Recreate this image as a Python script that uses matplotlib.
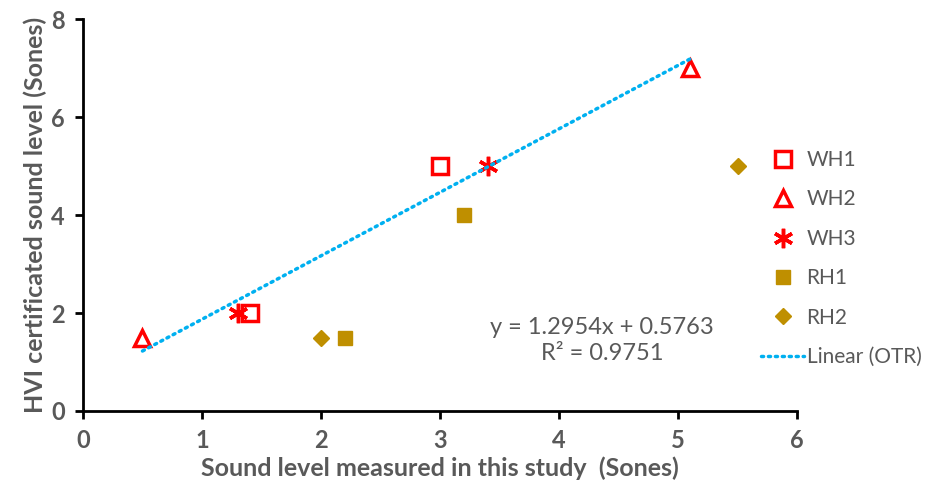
import matplotlib

matplotlib.use("Agg")
import matplotlib.pyplot as plt
import numpy as np

plt.rcParams["font.family"] = ["Lato", "DejaVu Sans"]

GRAY = "#595959"
RED = "#FF0000"
GOLD = "#BF8F00"
BLUE = "#00B0F0"

# measured (x) vs certificated (y), Sones
wh1_x = [3.0, 1.4]
wh1_y = [5.0, 2.0]
wh2_x = [0.5, 5.1]
wh2_y = [1.5, 7.0]
wh3_x = [1.3, 3.4]
wh3_y = [2.0, 5.0]
rh1_x = [3.2, 2.2]
rh1_y = [4.0, 1.5]
rh2_x = [2.0, 5.5]
rh2_y = [1.5, 5.0]

# trendline for OTR
slope = 1.2954
intercept = 0.5763
r2 = 0.9751
fit_range = [0.5, 5.1]

fig = plt.figure(figsize=(9.26, 4.95), dpi=100)
ax = fig.add_axes([0.0896, 0.1697, 0.7711, 0.7919])

ax.plot(wh1_x, wh1_y, ls="none", marker="s", ms=12, mfc="white", mec=RED, mew=2.5, label="WH1")
ax.plot(wh2_x, wh2_y, ls="none", marker="^", ms=12, mfc="white", mec=RED, mew=2.5, label="WH2")
ax.plot(wh3_x, wh3_y, ls="none", marker=(6, 2, 0), ms=14, mec=RED, mew=2.5, label="WH3")
ax.plot(rh1_x, rh1_y, ls="none", marker="s", ms=10.5, mfc=GOLD, mec=GOLD, label="RH1")
ax.plot(rh2_x, rh2_y, ls="none", marker="D", ms=8, mfc=GOLD, mec=GOLD, label="RH2")

xf = np.array(fit_range)
ax.plot(xf, slope * xf + intercept, ls=(0, (0.6, 1.4)), lw=2.5, color=BLUE,
        dash_capstyle="round", label="Linear (OTR)")

ax.text(4.36, 1.43, f"y = {slope}x + {intercept}\nR² = {r2}", ha="center", va="center",
        fontsize=17, color=GRAY, linespacing=1.3)

ax.set_xlim(0, 6)
ax.set_ylim(0, 8)
ax.set_xticks(range(0, 7))
ax.set_yticks(range(0, 9, 2))
for s in ["top", "right"]:
    ax.spines[s].set_visible(False)
for s in ["left", "bottom"]:
    ax.spines[s].set_linewidth(2)
ax.tick_params(direction="out", length=6, width=2, colors="black", labelcolor=GRAY,
               labelsize=17, pad=7)
for lab in ax.get_xticklabels() + ax.get_yticklabels():
    lab.set_fontweight("bold")

ax.set_xlabel("Sound level measured in this study  (Sones)", fontsize=18,
              fontweight="bold", color=GRAY, labelpad=3)
ax.set_ylabel("HVI certificated sound level (Sones)", fontsize=18,
              fontweight="bold", color=GRAY, labelpad=3)

leg = fig.legend(loc="upper left", bbox_to_anchor=(0.808, 0.722), frameon=False,
                 fontsize=15, labelcolor=GRAY, handlelength=2.1, handletextpad=0.1,
                 labelspacing=0.93, borderaxespad=0.2)

fig.savefig("out.png", dpi=100)
